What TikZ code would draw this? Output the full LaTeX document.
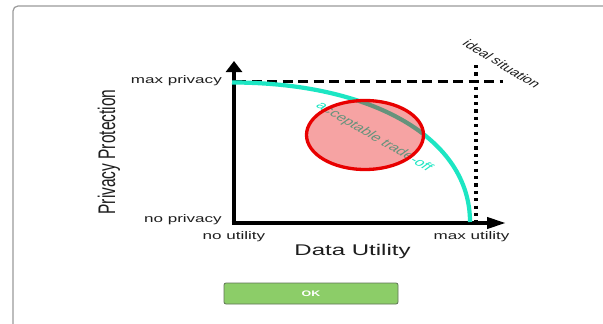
\documentclass[tikz,border=0pt]{standalone}
\usepackage{fontspec}
\setmainfont{Liberation Sans}
\usetikzlibrary{arrows.meta}
\definecolor{curvecol}{RGB}{28,230,195}
\definecolor{circred}{RGB}{232,0,0}
\definecolor{okgreen}{RGB}{140,205,104}
\definecolor{okedge}{RGB}{95,115,85}
\definecolor{framegray}{RGB}{155,155,155}
\definecolor{labelcol}{RGB}{30,30,30}
\newcommand{\hs}[1]{\scalebox{1.55}[1]{#1}}
\begin{document}
\begin{tikzpicture}[x=1pt,y=-1pt,
  lbl/.style={inner sep=0pt, text=labelcol, font=\fontsize{11}{13}\selectfont},
  biglbl/.style={inner sep=0pt, text=labelcol, font=\fontsize{15.5}{18}\selectfont},
  axisline/.style={draw=black},
  guideline/.style={draw=black, line width=3pt},
  tradecurve/.style={draw=curvecol, line width=4.2pt},
  zone/.style={draw=circred, line width=3.3pt, fill=circred, fill opacity=0.36},
  okbtn/.style={draw=okedge, line width=0.8pt, fill=okgreen, rounded corners=2pt, text=white, font=\fontsize{8}{9}\selectfont\bfseries, minimum width=174pt, minimum height=21pt, inner sep=0pt},
  framebox/.style={draw=framegray, line width=1.2pt, rounded corners=5pt}]
\useasboundingbox (0,0) rectangle (603,324);
\clip (0,0) rectangle (603,324);
\fill[white] (0,0) rectangle (603,324);
\draw[framebox] (13,6) rectangle (650,360);

% coordinates
\coordinate (O) at (234,223);
\coordinate (Ytop) at (234,61);
\coordinate (Xend) at (506,223);
\coordinate (maxP) at (236,81);
\coordinate (dashEnd) at (503,81);
\coordinate (dotTop) at (476,65);
\coordinate (dotBot) at (476,221);
\coordinate (cS) at (232,82.5);
\coordinate (cE) at (470,222);

% guide lines
\draw[guideline, dash pattern=on 10pt off 5.5pt] (maxP) -- (dashEnd);
\draw[draw=black, line width=4.6pt, dash pattern=on 3.2pt off 4.2pt] (dotTop) -- (dotBot);

% axes
\draw[axisline, line width=4.8pt, -{Triangle[length=11pt,width=16pt]}] ([yshift=-1.9pt]O) -- (Ytop);
\draw[axisline, line width=3.8pt, -{Triangle[length=19pt,width=11pt]}] ([xshift=-2.4pt]O) -- (Xend);

% trade-off curve
\draw[tradecurve] (cS) .. controls (372,82.5) and (470,138) .. (cE);

% labels
\node[lbl, anchor=east] (maxpriv) at (222,80.5) {\hs{max privacy}};
\node[lbl, anchor=east] (nopriv) at (222,219.5) {\hs{no privacy}};
\node[lbl] (noutil) at (234,236.5) {\hs{no utility}};
\node[lbl] (maxutil) at (471.5,236.5) {\hs{max utility}};
\node[biglbl] (dutil) at (352.5,251.5) {\hs{Data Utility}};
\node[biglbl] (pprot) at (109,152) {\hs{\rotatebox{90}{Privacy Protection}}};
\node[lbl, font=\fontsize{10.5}{12}\selectfont] (ideal) at (502,64) {\hs{\rotatebox{-43}{ideal situation}}};
\node[lbl, text=curvecol] (trade) at (374,137) {\hs{\rotatebox{-42}{acceptable trade-off}}};

% acceptable zone
\draw[zone] (365,135) ellipse [x radius=58.5pt, y radius=34.5pt];

% button
\node[okbtn] (ok) at (311,293.5) {\hs{OK}};
\end{tikzpicture}
\end{document}
